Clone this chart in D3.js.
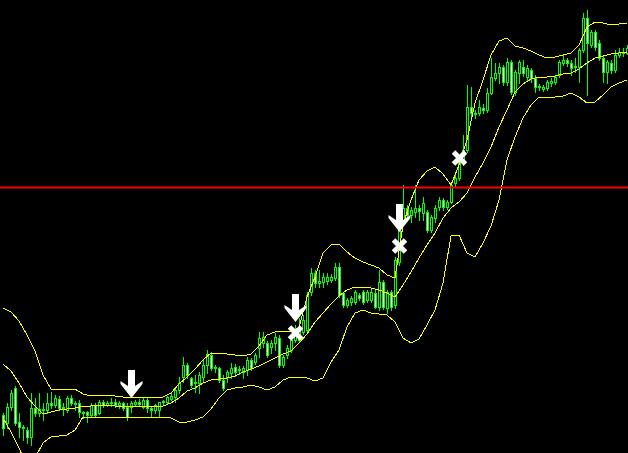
<!DOCTYPE html>
<html>
<head>
<meta charset="utf-8">
<title>Chart</title>
<script src="https://cdn.jsdelivr.net/npm/d3@7"></script>
<style>
  body { margin: 0; background: #000; }
  svg { display: block; }
</style>
</head>
<body>
<script>

// Data: one candle per bar (price values)
var opens = [1.3185,1.3177,1.3193,1.3212,1.3178,1.3173,1.3170,1.3163,1.3192,1.3187,
1.3191,1.3190,1.3197,1.3195,1.3201,1.3192,1.3190,1.3202,1.3197,1.3197,
1.3188,1.3188,1.3185,1.3195,1.3187,1.3198,1.3195,1.3197,1.3198,1.3195,
1.3197,1.3193,1.3193,1.3196,1.3198,1.3193,1.3200,1.3192,1.3190,1.3190,
1.3198,1.3198,1.3201,1.3203,1.3210,1.3223,1.3235,1.3222,1.3217,1.3217,
1.3223,1.3235,1.3245,1.3232,1.3232,1.3220,1.3223,1.3227,1.3233,1.3230,
1.3228,1.3230,1.3240,1.3238,1.3252,1.3257,1.3257,1.3253,1.3257,1.3262,
1.3235,1.3245,1.3250,1.3260,1.3260,1.3268,1.3270,1.3308,1.3327,1.3317,
1.3318,1.3319,1.3320,1.3322,1.3333,1.3307,1.3295,1.3298,1.3298,1.3305,
1.3308,1.3300,1.3300,1.3307,1.3293,1.3318,1.3292,1.3308,1.3295,1.3338,
1.3378,1.3392,1.3385,1.3388,1.3392,1.3387,1.3388,1.3370,1.3382,1.3393,
1.3400,1.3393,1.3398,1.3417,1.3422,1.3437,1.3450,1.3493,1.3487,1.3487,
1.3492,1.3490,1.3507,1.3522,1.3527,1.3533,1.3518,1.3538,1.3508,1.3527,
1.3533,1.3523,1.3530,1.3522,1.3514,1.3511,1.3512,1.3517,1.3518,1.3525,
1.3537,1.3540,1.3537,1.3533,1.3533,1.3550,1.3582,1.3555,1.3568,1.3557,
1.3542,1.3528,1.3537,1.3530,1.3545,1.3548,1.3547];

var highs = [1.3187,1.3197,1.3210,1.3214,1.3187,1.3175,1.3173,1.3207,1.3202,1.3207,
1.3197,1.3207,1.3208,1.3205,1.3204,1.3197,1.3204,1.3205,1.3199,1.3200,
1.3189,1.3189,1.3197,1.3197,1.3200,1.3200,1.3199,1.3202,1.3201,1.3199,
1.3198,1.3197,1.3199,1.3200,1.3201,1.3202,1.3202,1.3194,1.3196,1.3198,
1.3200,1.3204,1.3207,1.3212,1.3223,1.3243,1.3237,1.3223,1.3225,1.3228,
1.3240,1.3250,1.3248,1.3235,1.3233,1.3225,1.3230,1.3237,1.3236,1.3234,
1.3234,1.3243,1.3242,1.3247,1.3268,1.3268,1.3259,1.3260,1.3267,1.3265,
1.3245,1.3255,1.3265,1.3275,1.3282,1.3285,1.3308,1.3332,1.3330,1.3330,
1.3327,1.3327,1.3326,1.3337,1.3337,1.3308,1.3302,1.3304,1.3310,1.3307,
1.3310,1.3310,1.3312,1.3310,1.3330,1.3320,1.3310,1.3310,1.3343,1.3378,
1.3415,1.3395,1.3393,1.3415,1.3395,1.3403,1.3390,1.3385,1.3395,1.3403,
1.3402,1.3400,1.3417,1.3428,1.3445,1.3465,1.3515,1.3513,1.3490,1.3500,
1.3496,1.3512,1.3542,1.3537,1.3537,1.3535,1.3542,1.3540,1.3530,1.3540,
1.3540,1.3535,1.3532,1.3525,1.3516,1.3515,1.3520,1.3522,1.3525,1.3540,
1.3545,1.3542,1.3540,1.3542,1.3552,1.3587,1.3590,1.3570,1.3570,1.3560,
1.3544,1.3540,1.3540,1.3550,1.3552,1.3552,1.3555];

var lows = [1.3165,1.3172,1.3190,1.3175,1.3163,1.3160,1.3157,1.3155,1.3184,1.3184,
1.3180,1.3187,1.3192,1.3193,1.3190,1.3185,1.3188,1.3195,1.3190,1.3183,
1.3182,1.3178,1.3184,1.3183,1.3186,1.3193,1.3194,1.3194,1.3193,1.3192,
1.3190,1.3180,1.3188,1.3194,1.3194,1.3192,1.3188,1.3183,1.3187,1.3183,
1.3195,1.3196,1.3200,1.3198,1.3207,1.3218,1.3222,1.3213,1.3208,1.3207,
1.3218,1.3227,1.3230,1.3228,1.3218,1.3210,1.3218,1.3222,1.3224,1.3226,
1.3222,1.3225,1.3230,1.3236,1.3243,1.3253,1.3243,1.3247,1.3250,1.3233,
1.3233,1.3242,1.3248,1.3258,1.3258,1.3266,1.3268,1.3305,1.3313,1.3313,
1.3313,1.3316,1.3318,1.3320,1.3303,1.3293,1.3293,1.3295,1.3296,1.3300,
1.3296,1.3298,1.3298,1.3292,1.3290,1.3291,1.3287,1.3290,1.3292,1.3335,
1.3375,1.3382,1.3378,1.3383,1.3380,1.3380,1.3368,1.3368,1.3378,1.3390,
1.3390,1.3391,1.3397,1.3414,1.3420,1.3435,1.3448,1.3483,1.3482,1.3485,
1.3487,1.3488,1.3506,1.3520,1.3517,1.3515,1.3515,1.3506,1.3505,1.3517,
1.3524,1.3520,1.3518,1.3508,1.3510,1.3509,1.3510,1.3514,1.3516,1.3523,
1.3535,1.3534,1.3525,1.3528,1.3518,1.3548,1.3505,1.3553,1.3550,1.3540,
1.3518,1.3517,1.3527,1.3528,1.3543,1.3544,1.3546];

var closes = [1.3172,1.3193,1.3207,1.3177,1.3173,1.3172,1.3163,1.3192,1.3187,1.3191,
1.3190,1.3197,1.3195,1.3202,1.3192,1.3193,1.3202,1.3197,1.3196,1.3188,
1.3187,1.3185,1.3195,1.3185,1.3198,1.3195,1.3197,1.3198,1.3195,1.3197,
1.3192,1.3183,1.3197,1.3198,1.3196,1.3200,1.3192,1.3190,1.3195,1.3198,
1.3199,1.3203,1.3204,1.3210,1.3217,1.3235,1.3225,1.3215,1.3218,1.3225,
1.3235,1.3246,1.3232,1.3233,1.3220,1.3212,1.3228,1.3232,1.3228,1.3231,
1.3232,1.3240,1.3232,1.3245,1.3262,1.3263,1.3245,1.3257,1.3263,1.3235,
1.3243,1.3252,1.3260,1.3267,1.3273,1.3280,1.3305,1.3327,1.3317,1.3319,
1.3323,1.3323,1.3323,1.3333,1.3305,1.3295,1.3300,1.3302,1.3308,1.3302,
1.3298,1.3308,1.3308,1.3293,1.3318,1.3293,1.3308,1.3293,1.3340,1.3375,
1.3392,1.3385,1.3390,1.3392,1.3389,1.3397,1.3370,1.3383,1.3392,1.3400,
1.3393,1.3398,1.3415,1.3422,1.3438,1.3450,1.3493,1.3487,1.3486,1.3493,
1.3490,1.3507,1.3523,1.3527,1.3533,1.3518,1.3538,1.3508,1.3528,1.3538,
1.3527,1.3532,1.3522,1.3513,1.3513,1.3513,1.3518,1.3519,1.3523,1.3538,
1.3540,1.3537,1.3532,1.3534,1.3550,1.3582,1.3557,1.3568,1.3553,1.3542,
1.3528,1.3538,1.3530,1.3545,1.3548,1.3547,1.3552];

// Bollinger bands, read every second bar
var bbUpper = [1.3292,1.3288,1.3279,1.3265,1.3249,1.3225,1.3211,1.3211,1.3211,1.3211,
1.3206,1.3204,1.3205,1.3205,1.3204,1.3203,1.3203,1.3203,1.3203,1.3203,
1.3203,1.3207,1.3216,1.3223,1.3231,1.3240,1.3247,1.3247,1.3246,1.3245,
1.3244,1.3246,1.3254,1.3265,1.3268,1.3269,1.3269,1.3272,1.3303,1.3323,
1.3347,1.3355,1.3356,1.3348,1.3342,1.3338,1.3335,1.3332,1.3325,1.3322,
1.3375,1.3400,1.3420,1.3429,1.3433,1.3426,1.3415,1.3435,1.3460,1.3497,
1.3520,1.3545,1.3559,1.3562,1.3554,1.3552,1.3549,1.3545,1.3542,1.3543,
1.3545,1.3547,1.3555,1.3573,1.3578,1.3577,1.3575,1.3576,1.3577];

var bbMiddle = [1.3236,1.3229,1.3217,1.3203,1.3194,1.3186,1.3188,1.3190,1.3191,1.3192,
1.3194,1.3194,1.3195,1.3195,1.3194,1.3194,1.3194,1.3194,1.3194,1.3194,
1.3194,1.3197,1.3202,1.3209,1.3212,1.3217,1.3220,1.3221,1.3222,1.3224,
1.3228,1.3231,1.3234,1.3238,1.3242,1.3246,1.3249,1.3257,1.3266,1.3278,
1.3287,1.3296,1.3304,1.3310,1.3313,1.3313,1.3312,1.3310,1.3307,1.3303,
1.3315,1.3328,1.3342,1.3355,1.3367,1.3382,1.3392,1.3398,1.3407,1.3423,
1.3437,1.3453,1.3473,1.3490,1.3508,1.3516,1.3521,1.3523,1.3523,1.3524,
1.3526,1.3527,1.3531,1.3537,1.3542,1.3544,1.3546,1.3547,1.3548];

var bbLower = [1.3182,1.3168,1.3152,1.3134,1.3142,1.3157,1.3163,1.3164,1.3165,1.3170,
1.3183,1.3183,1.3183,1.3183,1.3183,1.3183,1.3183,1.3183,1.3183,1.3183,
1.3183,1.3182,1.3178,1.3178,1.3180,1.3183,1.3191,1.3202,1.3210,1.3212,
1.3213,1.3215,1.3213,1.3210,1.3213,1.3220,1.3223,1.3223,1.3222,1.3219,
1.3222,1.3238,1.3250,1.3273,1.3287,1.3290,1.3287,1.3286,1.3285,1.3278,
1.3262,1.3257,1.3261,1.3275,1.3290,1.3317,1.3364,1.3365,1.3347,1.3343,
1.3357,1.3374,1.3400,1.3440,1.3463,1.3482,1.3495,1.3503,1.3503,1.3503,
1.3504,1.3507,1.3503,1.3497,1.3498,1.3505,1.3513,1.3517,1.3520];

// Horizontal level and signals
var levelPrice = 1.34125;
var arrowBars = [32, 73, 99];
var arrowPrices = [1.3202, 1.3278, 1.3368];
var crossBars = [73, 99, 114];
var crossPrices = [1.3267, 1.3354, 1.3442];

// Graphics
var width = 628;
var height = 453;
var candleColor = "#00ff00";
var bandColor = "#ffff00";

var svg = d3.select("body").append("svg")
  .attr("width", width)
  .attr("height", height);

svg.append("rect")
  .attr("width", width)
  .attr("height", height)
  .attr("fill", "#000");

var xScale = d3.scaleLinear()
  .domain([0, closes.length - 1])
  .range([3, 627]);

var yScale = d3.scaleLinear()
  .domain([1.3147, 1.3600])
  .range([height, 0]);

var py = function(p) { return Math.round(yScale(p)); };

// Candles
var bars = d3.range(closes.length);
var candles = svg.append("g").attr("shape-rendering", "crispEdges");

candles.selectAll("line.wick")
  .data(bars)
  .enter()
  .append("line")
  .attr("class", "wick")
  .attr("x1", function(i) { return xScale(i) + 0.5; })
  .attr("x2", function(i) { return xScale(i) + 0.5; })
  .attr("y1", function(i) { return py(highs[i]); })
  .attr("y2", function(i) { return py(lows[i]) + 1; })
  .attr("stroke", candleColor)
  .attr("stroke-width", 1);

candles.selectAll("rect.body")
  .data(bars.filter(function(i) { return py(opens[i]) !== py(closes[i]); }))
  .enter()
  .append("rect")
  .attr("class", "body")
  .attr("x", function(i) { return xScale(i) - 0.5; })
  .attr("y", function(i) { return Math.min(py(opens[i]), py(closes[i])) + 0.5; })
  .attr("width", 2)
  .attr("height", function(i) { return Math.abs(py(opens[i]) - py(closes[i])); })
  .attr("fill", function(i) { return closes[i] > opens[i] ? "#000" : "#fff"; })
  .attr("stroke", candleColor)
  .attr("stroke-width", 1);

candles.selectAll("line.doji")
  .data(bars.filter(function(i) { return py(opens[i]) === py(closes[i]); }))
  .enter()
  .append("line")
  .attr("class", "doji")
  .attr("x1", function(i) { return xScale(i) - 1; })
  .attr("x2", function(i) { return xScale(i) + 2; })
  .attr("y1", function(i) { return py(closes[i]) + 0.5; })
  .attr("y2", function(i) { return py(closes[i]) + 0.5; })
  .attr("stroke", candleColor);

// Bands
var bandBars = d3.range(0, closes.length, 2);
var bandLine = d3.line()
  .x(function(d, k) { return xScale(bandBars[k]); })
  .y(function(d) { return yScale(d); });

[bbUpper, bbMiddle, bbLower].forEach(function(s) {
  svg.append("path")
    .attr("d", bandLine(s))
    .attr("fill", "none")
    .attr("stroke", bandColor)
    .attr("stroke-width", 1)
    .attr("shape-rendering", "crispEdges");
});

// Level line
svg.append("line")
  .attr("x1", 0)
  .attr("x2", width)
  .attr("y1", yScale(levelPrice))
  .attr("y2", yScale(levelPrice))
  .attr("stroke", "#ff0000")
  .attr("stroke-width", 2);

// Down arrows (tip at price)
var arrowPath = function(cx, tip) {
  var t = tip - 28;
  return "M" + (cx - 3.5) + "," + t +
    "L" + (cx + 3.5) + "," + t +
    "L" + (cx + 3.5) + "," + (t + 16) +
    "L" + (cx + 11) + "," + (t + 11) +
    "L" + (cx + 11) + "," + (t + 14) +
    "L" + cx + "," + tip +
    "L" + (cx - 11) + "," + (t + 14) +
    "L" + (cx - 11) + "," + (t + 11) +
    "L" + (cx - 3.5) + "," + (t + 16) + "Z";
};

svg.selectAll("path.arrow")
  .data(arrowBars)
  .enter()
  .append("path")
  .attr("class", "arrow")
  .attr("d", function(b, k) { return arrowPath(xScale(b) + 0.5, yScale(arrowPrices[k])); })
  .attr("fill", "#fff");

// Crosses
var crosses = svg.selectAll("g.cross")
  .data(crossBars)
  .enter()
  .append("g")
  .attr("class", "cross")
  .attr("transform", function(b, k) {
    return "translate(" + (xScale(b) + 0.5) + "," + yScale(crossPrices[k]) + ")";
  });

crosses.append("path")
  .attr("d", "M-6,-6L6,6M6,-6L-6,6")
  .attr("stroke", "#fff")
  .attr("stroke-width", 5);

</script>
</body>
</html>
